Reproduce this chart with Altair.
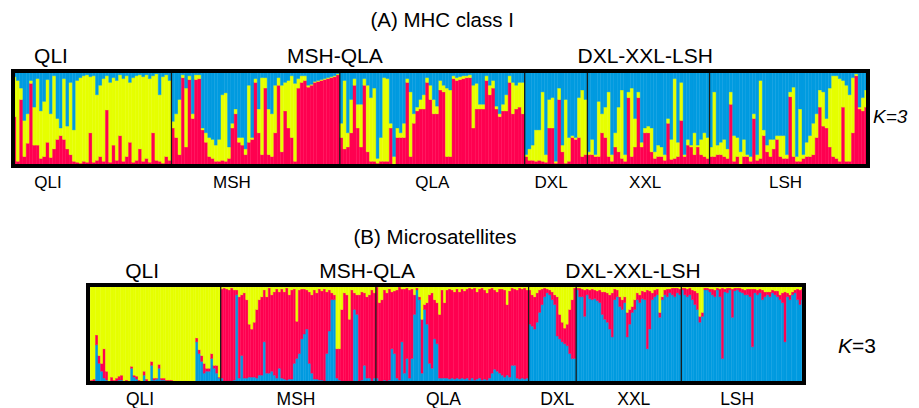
import altair as alt
import pandas as pd

# ---------------- Panel A : MHC class I (stack bottom->top: red, yellow, blue)
# red share and red+yellow cumulative share per individual; blue = remainder
A_groups = ["QLI", "MSH", "QLA", "DXL", "XXL", "LSH"]
A_QLI_red = [.52,.05,.70,.10,.24,.87,.22,.22,.08,.10,.25,.09,.18,.28,.32,.28,.18,.12,.05,.04,.03,.05,.04,.35,.04,.06,.10,.05,.59,.04,.22,.06,.32,.05,.10,.25,.04,.06,.18,.05,.08,.04,.35,.06,.05,.03,.10,.06]
A_QLI_ry = [.94,.90,.82,.48,.55,.90,.62,.92,.58,.68,.91,.55,.95,.50,.40,.92,.42,.88,.38,.90,.93,.95,.96,.94,.95,.75,.85,.92,.95,.88,.93,.90,.96,.92,.95,.88,.93,.95,.96,.94,.96,.92,.95,.97,.75,.94,.96,.90]
A_MSH_red = [.40,.30,.12,.93,.20,.91,.50,.91,.92,.38,.25,.10,.08,.05,.05,.06,.05,.08,.40,.55,.25,.22,.12,.25,.28,.88,.35,.12,.82,.12,.10,.35,.85,.15,.58,.40,.30,.05,.82,.88,.90,.83,.85,.88,.89,.90,.91,.92,.93,.94,.96]
A_MSH_ry = [.47,.55,.70,.96,.82,.95,.55,.96,.96,.40,.35,.30,.28,.22,.28,.75,.77,.20,.45,.60,.30,.30,.18,.85,.30,.92,.60,.93,.93,.60,.55,.85,.93,.85,.88,.90,.95,.87,.92,.95,.95,.85,.86,.89,.90,.91,.92,.93,.94,.95,.97]
A_QLA_red = [.30,.18,.20,.35,.85,.40,.20,.85,.15,.05,.05,.03,.05,.05,.05,.40,.02,.30,.30,.30,.88,.10,.45,.58,.60,.60,.88,.70,.55,.55,.80,.78,.10,.10,.92,.90,.91,.92,.93,.93,.40,.60,.60,.60,.90,.75,.82,.60,.52,.58,.58,.88,.55,.60,.62,.55]
A_QLA_ry = [.45,.90,.35,.70,.92,.65,.65,.92,.85,.72,.82,.08,.30,.93,.92,.45,.10,.40,.35,.45,.92,.78,.55,.62,.70,.75,.93,.85,.70,.63,.90,.85,.82,.80,.95,.93,.94,.95,.95,.96,.85,.87,.65,.65,.95,.85,.90,.63,.55,.65,.75,.95,.88,.85,.88,.88]
A_DXL_red = [.10,.06,.06,.05,.06,.05,.04,.40,.40,.03,.70,.15,.03,.05,.30,.28,.30,.10,.12]
A_DXL_ry = [.12,.18,.22,.38,.38,.78,.12,.70,.72,.05,.82,.22,.70,.30,.32,.30,.72,.80,.70]
A_XXL_red = [.12,.12,.10,.10,.35,.30,.10,.05,.20,.15,.08,.05,.72,.10,.20,.72,.20,.35,.35,.15,.08,.10,.10,.06,.45,.07,.08,.10,.48,.10,.22,.20,.12,.20,.12,.10,.08]
A_XXL_ry = [.15,.28,.12,.68,.55,.62,.78,.12,.35,.62,.80,.12,.78,.82,.50,.78,.25,.40,.42,.40,.15,.22,.20,.12,.50,.28,.92,.25,.88,.12,.28,.22,.35,.22,.28,.35,.30]
A_LSH_red = [.10,.10,.12,.12,.10,.08,.65,.05,.10,.02,.10,.10,.05,.50,.06,.08,.32,.15,.10,.18,.28,.10,.08,.08,.73,.10,.05,.05,.08,.10,.10,.12,.30,.62,.42,.40,.20,.10,.08,.05,.62,.05,.05,.35,.95,.60,.58,.62]
A_LSH_ry = [.20,.78,.22,.25,.28,.18,.78,.32,.30,.15,.28,.12,.10,.55,.12,.90,.38,.22,.28,.28,.32,.32,.32,.12,.78,.83,.10,.60,.12,.25,.32,.45,.55,.80,.78,.50,.82,.95,.95,.92,.90,.85,.75,.93,.97,.62,.72,.80]

# ---------------- Panel B : Microsatellites (stack bottom->top: blue, red, yellow)
# blue share and blue+red cumulative share per individual; yellow = remainder
B_QLI_blue = [.01,.01,.02,.39,.20,.12,.05,.03,.01,.02,.01,.02,.03,.03,.01,.02,.01,.15,.06,.04,.02,.01,.08,.02,.01,.18,.03,.04,.15,.03,.03,.02,.02,.01,.01,.01,.01,.01,.01,.01,.01,.01,.01,.42,.30,.22,.10,.12,.12,.25,.15,.10,.05]
B_QLI_br = [.02,.03,.04,.49,.28,.20,.35,.12,.02,.06,.03,.05,.07,.08,.02,.03,.02,.17,.08,.07,.03,.02,.12,.04,.02,.22,.05,.05,.19,.05,.05,.03,.03,.03,.02,.02,.02,.02,.02,.02,.02,.02,.02,.46,.34,.28,.20,.15,.15,.30,.18,.18,.06]
B_MSH_blue = [.05,.02,.02,.02,.02,.03,.90,.05,.28,.05,.05,.06,.06,.06,.05,.08,.08,.42,.10,.10,.12,.08,.05,.15,.05,.04,.03,.04,.04,.20,.25,.30,.45,.50,.55,.20,.10,.04,.04,.03,.03,.02,.30,.53,.85,.85,.05,.03,.02,.02,.02,.02,.02,.75,.70,.02,.03,.18,.05,.05,.02,.05]
B_MSH_br = [.96,.97,.96,.95,.97,.95,.95,.88,.90,.92,.85,.60,.55,.62,.75,.85,.88,.95,.88,.97,.90,.93,.96,.93,.96,.93,.97,.90,.95,.96,.63,.95,.96,.96,.95,.93,.90,.95,.92,.96,.94,.96,.93,.95,.92,.90,.35,.35,.75,.92,.90,.65,.95,.92,.90,.90,.93,.92,.88,.90,.95,.92]
B_QLA_blue = [.05,.02,.02,.03,.02,.03,.35,.30,.05,.03,.42,.10,.25,.05,.25,.70,.95,.85,.10,.75,.60,.20,.15,.45,.40,.05,.05,.05,.05,.04,.05,.04,.05,.04,.05,.04,.05,.03,.05,.03,.04,.05,.03,.04,.03,.05,.10,.14,.12,.10,.08,.06,.08,.06,.18,.18,.05,.04,.05,.04,.05]
B_QLA_br = [.98,.82,.85,.95,.92,.96,.93,.94,.95,.98,.96,.96,.97,.95,.96,.90,.97,.88,.65,.80,.82,.90,.92,.85,.82,.70,.95,.82,.95,.96,.95,.93,.96,.93,.96,.94,.96,.97,.96,.97,.93,.96,.97,.95,.92,.96,.97,.95,.93,.96,.96,.95,.80,.94,.97,.96,.95,.97,.96,.97,.95]
B_DXL_blue = [.60,.58,.55,.62,.72,.80,.88,.92,.90,.85,.80,.48,.45,.42,.40,.38,.30,.25,.25]
B_DXL_br = [.95,.90,.88,.92,.95,.96,.97,.96,.95,.93,.90,.88,.70,.62,.56,.60,.75,.85,.97]
B_XXL_blue = [.95,.88,.88,.68,.90,.86,.85,.86,.84,.82,.70,.65,.62,.55,.47,.85,.88,.78,.75,.82,.47,.60,.72,.75,.85,.82,.86,.85,.35,.55,.85,.88,.90,.67,.85,.90,.88,.92,.90,.88,.92,.90]
B_XXL_br = [.97,.97,.96,.95,.96,.95,.96,.95,.94,.95,.93,.93,.92,.90,.92,.96,.95,.88,.85,.88,.72,.75,.78,.85,.92,.90,.94,.93,.95,.94,.92,.95,.96,.72,.88,.95,.96,.96,.97,.97,.97,.96]
B_LSH_blue = [.95,.90,.88,.90,.85,.80,.75,.62,.68,.95,.95,.93,.90,.88,.95,.88,.25,.93,.92,.95,.67,.94,.95,.93,.92,.90,.90,.88,.37,.92,.90,.92,.85,.88,.90,.88,.92,.90,.88,.85,.82,.42,.88,.85,.90,.92,.85,.80,.85]
B_LSH_br = [.97,.97,.96,.97,.95,.94,.92,.68,.72,.97,.97,.96,.96,.95,.97,.96,.97,.96,.97,.97,.96,.97,.97,.97,.96,.95,.96,.96,.96,.96,.95,.96,.95,.93,.93,.93,.95,.94,.94,.90,.92,.93,.92,.90,.93,.95,.96,.95,.96]

# ---------------- Text
A_title = "(A) MHC class I"
B_title = "(B) Microsatellites"
top_labels = ["QLI", "MSH-QLA", "DXL-XXL-LSH"]
bottom_labels = ["QLI", "MSH", "QLA", "DXL", "XXL", "LSH"]
# label positions in individual-index units of each panel
A_title_pos = 130
A_top_pos = [11.5, 97.5, 191.5]
A_bottom_pos = [10.6, 66.3, 127, 163, 191.5, 234]
B_title_pos = 138.6
B_top_pos = [21.6, 111.5, 217.7]
B_bottom_pos = [20.8, 83.1, 142, 187.4, 218, 259.3]

COLORS = {"red": "#FF0050", "yellow": "#E6FF00", "blue": "#009BE0"}
FONT = "Liberation Sans"

cscale = alt.Scale(domain=list(COLORS.keys()), range=list(COLORS.values()))


def panel_frame(first, second, mode):
    rows = []
    i = 0
    bounds = []
    for a_list, c_list in zip(first, second):
        for a, c in zip(a_list, c_list):
            if mode == "A":
                parts = [("red", a), ("yellow", c - a), ("blue", 1 - c)]
            else:
                parts = [("blue", a), ("red", c - a), ("yellow", 1 - c)]
            lo = 0.0
            for comp, v in parts:
                rows.append({"x0": i, "x1": i + 1, "comp": comp, "y0": lo, "y1": lo + v})
                lo += v
            i += 1
        bounds.append(i)
    return pd.DataFrame(rows), bounds[:-1], i


def panel(df, seps, n, xr, yr, title, title_pos, top_pos, bottom_pos, ty, gy, by, bsize):
    xs = alt.Scale(domain=[0, n], range=xr, nice=False, zero=False)
    ys = alt.Scale(domain=[0, 1], range=yr, nice=False, zero=False)
    bars = alt.Chart(df).mark_rect(strokeWidth=0.4).encode(
        x=alt.X("x0:Q", scale=xs, axis=None), x2="x1:Q",
        y=alt.Y("y0:Q", scale=ys, axis=None), y2="y1:Q",
        color=alt.Color("comp:N", scale=cscale, legend=None),
        stroke=alt.Stroke("comp:N", scale=cscale, legend=None),
    )
    sep_df = pd.DataFrame({"b": seps, "lo": 0, "hi": 1})
    rules = alt.Chart(sep_df).mark_rule(color="#1a1a1a", strokeWidth=1.3).encode(
        x=alt.X("b:Q", scale=xs, axis=None),
        y=alt.Y("lo:Q", scale=ys, axis=None), y2="hi:Q")
    border_df = pd.DataFrame({"a": [0], "b": [n], "lo": [0], "hi": [1]})
    border = alt.Chart(border_df).mark_rect(fillOpacity=0, stroke="black", strokeWidth=4).encode(
        x=alt.X("a:Q", scale=xs, axis=None), x2="b:Q",
        y=alt.Y("lo:Q", scale=ys, axis=None), y2="hi:Q")
    t_df = pd.DataFrame({"p": [title_pos], "t": [title]})
    t = alt.Chart(t_df).mark_text(font=FONT, fontSize=20.5, color="black").encode(
        x=alt.X("p:Q", scale=xs, axis=None), y=alt.value(ty), text="t:N")
    g_df = pd.DataFrame({"p": top_pos, "t": top_labels})
    g = alt.Chart(g_df).mark_text(font=FONT, fontSize=21, color="black").encode(
        x=alt.X("p:Q", scale=xs, axis=None), y=alt.value(gy), text="t:N")
    b_df = pd.DataFrame({"p": bottom_pos, "t": bottom_labels})
    b = alt.Chart(b_df).mark_text(font=FONT, fontSize=bsize, color="black").encode(
        x=alt.X("p:Q", scale=xs, axis=None), y=alt.value(by), text="t:N")
    return bars, rules, border, t, g, b, xs


dfA, sepA, nA = panel_frame(
    [A_QLI_red, A_MSH_red, A_QLA_red, A_DXL_red, A_XXL_red, A_LSH_red],
    [A_QLI_ry, A_MSH_ry, A_QLA_ry, A_DXL_ry, A_XXL_ry, A_LSH_ry], "A")
dfB, sepB, nB = panel_frame(
    [B_QLI_blue, B_MSH_blue, B_QLA_blue, B_DXL_blue, B_XXL_blue, B_LSH_blue],
    [B_QLI_br, B_MSH_br, B_QLA_br, B_DXL_br, B_XXL_br, B_LSH_br], "B")

pa = panel(dfA, sepA, nA, [5, 860], [158, 63], A_title, A_title_pos, A_top_pos, A_bottom_pos, 13, 49, 175, 17)
pb = panel(dfB, sepB, nB, [80, 796], [375, 277], B_title, B_title_pos, B_top_pos, B_bottom_pos, 230, 264, 392, 17.5)

kA = alt.Chart(pd.DataFrame({"p": [nA], "t": ["K=3"]})).mark_text(
    font=FONT, fontSize=19, fontStyle="italic", align="left", dx=5, color="black").encode(
    x=alt.X("p:Q", scale=pa[6], axis=None), y=alt.value(109), text="t:N")
kB1 = alt.Chart(pd.DataFrame({"p": [nB], "t": ["K"]})).mark_text(
    font=FONT, fontSize=21, fontStyle="italic", align="left", dx=34, color="black").encode(
    x=alt.X("p:Q", scale=pb[6], axis=None), y=alt.value(339), text="t:N")
kB2 = alt.Chart(pd.DataFrame({"p": [nB], "t": ["=3"]})).mark_text(
    font=FONT, fontSize=21, align="left", dx=48, color="black").encode(
    x=alt.X("p:Q", scale=pb[6], axis=None), y=alt.value(339), text="t:N")

layerA = alt.layer(*pa[:6], kA)
layerB = alt.layer(*pb[:6], kB1, kB2)

chart = alt.layer(layerA, layerB).resolve_scale(x="independent", y="independent").properties(
    width=903, height=400, padding=0,
    autosize=alt.AutoSizeParams(type="none"),
).configure_view(strokeWidth=0)

chart.save("out.html", embed_options={"renderer": "svg", "actions": False})
